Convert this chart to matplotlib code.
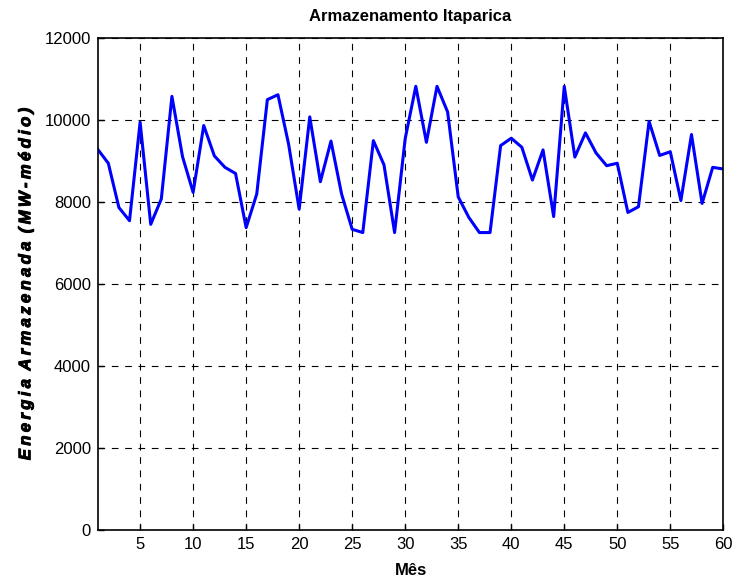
import matplotlib
matplotlib.use('agg')
import matplotlib.pyplot as plt
import matplotlib.patheffects as pe
from matplotlib import rcParams

rcParams.update({
    'font.family': ['Liberation Sans', 'DejaVu Sans'],
    'font.size': 12,
})

# energia armazenada mensal (MW-médio), meses 1..60
meses = list(range(1, 61))
energia = [
    9280, 8940, 7860, 7540, 9940, 7450, 8070, 10570, 9100, 8230,
    9860, 9120, 8840, 8690, 7370, 8190, 10490, 10610, 9410, 7820,
    10070, 8490, 9480, 8190, 7330, 7250, 9490, 8900, 7250, 9540,
    10815, 9450, 10815, 10190, 8120, 7620, 7250, 7250, 9370, 9550,
    9330, 8530, 9265, 7640, 10815, 9090, 9680, 9190, 8880, 8940,
    7740, 7880, 9960, 9130, 9220, 8030, 9640, 7960, 8840, 8800,
]
xticks = list(range(5, 61, 5))
yticks = list(range(0, 12001, 2000))


def espacar(texto):
    # letras afastadas, como no rótulo original
    palavras = texto.split(' ')
    return '\u2002'.join('\u2009'.join(p) for p in palavras)


fig = plt.figure(figsize=(7.34, 5.81), dpi=100)
ax = fig.add_axes([97.7 / 734, 1 - 530 / 581, 625.6 / 734, 492.3 / 581])

ax.plot(meses, energia, color='#0000ff', linewidth=2.2)

ax.set_xlim(1, 60)
ax.set_ylim(0, 12000)
ax.set_xticks(xticks)
ax.set_yticks(yticks)
ax.tick_params(direction='in', length=4, width=1, labelsize=12, pad=5)
ax.grid(True, color='black', linestyle=(0, (6, 6)), linewidth=0.8)
for s in ax.spines.values():
    s.set_linewidth(1.2)

ax.set_title('Armazenamento Itaparica', fontsize=12, fontweight='bold', pad=12)
ax.set_xlabel('Mês', fontsize=12, fontweight='bold', labelpad=8)
ax.set_ylabel(espacar('Energia Armazenada (MW-médio)'),
              fontsize=12, fontweight='bold', fontstyle='italic', labelpad=8,
              path_effects=[pe.withStroke(linewidth=0.7, foreground='black')])

fig.savefig('out.png', dpi=100)
